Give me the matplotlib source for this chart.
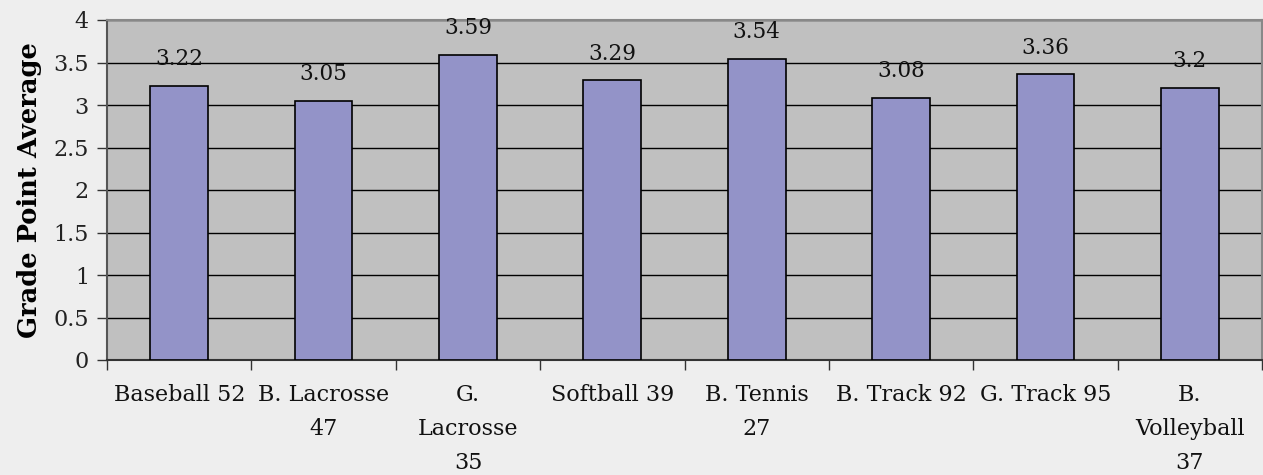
"""Bar chart of team grade point averages."""

import matplotlib

matplotlib.use("Agg")

import matplotlib.pyplot as plt
import numpy as np

teams = [
    "Baseball 52",
    "B. Lacrosse\n47",
    "G.\nLacrosse\n35",
    "Softball 39",
    "B. Tennis\n27",
    "B. Track 92",
    "G. Track 95",
    "B.\nVolleyball\n37",
]
gpa = [3.22, 3.05, 3.59, 3.29, 3.54, 3.08, 3.36, 3.20]
gpa_labels = ["3.22", "3.05", "3.59", "3.29", "3.54", "3.08", "3.36", "3.2"]
y_ticks = [0, 0.5, 1, 1.5, 2, 2.5, 3, 3.5, 4]
y_tick_labels = ["0", "0.5", "1", "1.5", "2", "2.5", "3", "3.5", "4"]

plt.rcParams["font.family"] = ["DejaVu Serif"]

W, H = 1263, 475
fig = plt.figure(figsize=(W / 100, H / 100), dpi=100, facecolor="#eeeeee")
ax = fig.add_axes([107 / W, (H - 360) / H, 1155 / W, 340 / H])
ax.set_facecolor("#c0c0c0")

x = np.arange(len(teams))
ax.bar(x, gpa, width=0.4, color="#9393c8", edgecolor="black", linewidth=1.2, zorder=3)

for xi, v, lab in zip(x, gpa, gpa_labels):
    ax.annotate(lab, (xi, v), xytext=(0, 15), textcoords="offset points",
                ha="center", va="baseline", fontsize=15.5, color="#111111")

ax.set_xlim(-0.5, len(teams) - 0.5)
ax.set_ylim(0, 4)
ax.set_yticks(y_ticks)
ax.set_yticklabels(y_tick_labels, fontsize=16, color="#222222")
ax.yaxis.grid(True, color="black", linewidth=1.0, zorder=0)
ax.set_axisbelow(True)

ax.set_xticks(np.arange(len(teams) + 1) - 0.5, minor=False)
ax.set_xticklabels([])
ax.set_xticks(x, minor=True)
ax.set_xticklabels(teams, minor=True, fontsize=16, linespacing=1.72, va="top", color="#111111")
ax.tick_params(axis="x", which="minor", length=0, pad=17)
ax.tick_params(axis="x", which="major", length=7, width=1.0, color="#333333")
ax.tick_params(axis="y", length=7, width=1.0, color="#333333", pad=6)

for side in ["top", "right"]:
    ax.spines[side].set_color("#888888")
    ax.spines[side].set_linewidth(1.5)
ax.spines["left"].set_color("#555555")
ax.spines["left"].set_linewidth(1.5)
ax.spines["bottom"].set_color("#333333")
ax.spines["bottom"].set_linewidth(1.5)

ax.set_ylabel("Grade Point Average", fontsize=18.5, fontweight="bold", labelpad=8)

fig.savefig("out.png", dpi=100, facecolor=fig.get_facecolor())
